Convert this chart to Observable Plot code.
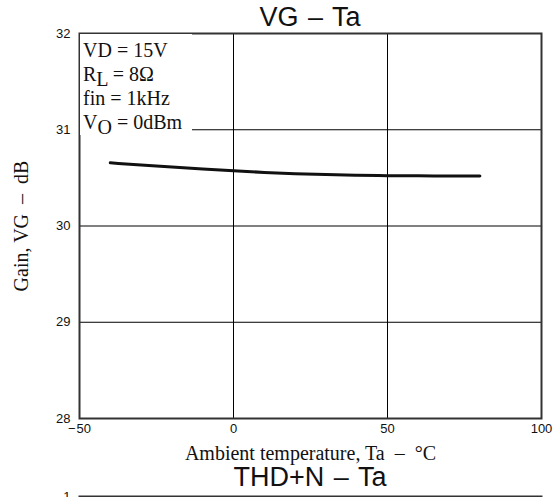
<!DOCTYPE html>
<html><head><meta charset="utf-8">
<script src="https://cdn.jsdelivr.net/npm/d3@7"></script>
<script src="https://cdn.jsdelivr.net/npm/@observablehq/plot@0.6"></script>
<style>
html,body{margin:0;padding:0;background:#fff;overflow:hidden;}
#wrap{position:relative;width:555px;}
.title{font-family:"Liberation Sans",Arial,sans-serif;font-size:27px;color:#111;text-align:center;box-sizing:border-box;width:541px;padding-left:79px;white-space:pre;line-height:30px;word-spacing:2px;}
#t1{height:26px;line-height:34px;}
#t2{height:30px;}
#note{position:absolute;left:80px;top:34px;width:112px;height:101px;box-sizing:border-box;padding:4px 0 0 3px;background:#fff;font-family:"Liberation Serif","Times New Roman",serif;font-size:20px;line-height:24px;color:#111;white-space:pre;}
#note .sub{position:relative;top:5px;}
svg{display:block;overflow:visible;}
</style></head><body>
<div id="wrap">
  <div class="title" id="t1"></div>
  <div id="c1"></div>
  <div class="title" id="t2"></div>
  <div id="c2"></div>
  <div id="note"></div>
</div>
<script>
// ---- data ----
const title1 = "VG – Ta";
const title2 = "THD+N – Ta";
const temps = [-40, -30, -20, -10, 0, 10, 20, 30, 40, 50, 60, 70, 80];
const gain  = [30.656, 30.635, 30.613, 30.592, 30.573, 30.557, 30.544, 30.534, 30.527, 30.523, 30.521, 30.520, 30.519];
const xTicks = [-50, 0, 50, 100];
const yTicks = [28, 29, 30, 31, 32];
const thdTicks = [1];
const xLabel = "Ambient temperature, Ta  –  °C";
const yLabel = "Gain, VG  –  dB";
const noteLines = [["VD = 15V", ""], ["R", "L", " = 8Ω"], ["fin = 1kHz", ""], ["V", "O", " = 0dBm"]];

// ---- titles & note ----
document.getElementById("t1").textContent = title1;
document.getElementById("t2").textContent = title2;
const note = document.getElementById("note");
noteLines.forEach(parts => {
  const div = document.createElement("div");
  if (parts.length === 3) {
    div.append(parts[0]);
    const s = document.createElement("span"); s.className = "sub"; s.textContent = parts[1];
    div.append(s); div.append(parts[2]);
  } else div.textContent = parts[0];
  note.appendChild(div);
});

const data = temps.map((t, i) => ({t, g: gain[i]}));
const fmt = d => d < 0 ? "\u2212\u200a" + Math.abs(d) : String(d);
const serif = "Liberation Serif, Times New Roman, serif";
const sans = "Liberation Sans, Arial, sans-serif";

const chart = Plot.plot({
  width: 555, height: 436,
  marginTop: 7, marginBottom: 44, marginLeft: 79, marginRight: 14,
  style: {fontFamily: sans, fontSize: "13px", color: "#111", background: "#fff", overflow: "visible"},
  x: {domain: [-50, 100]},
  y: {domain: [28, 32]},
  marks: [
    Plot.gridX(xTicks.slice(1, -1), {stroke: "#000", strokeOpacity: 1, strokeWidth: 1}),
    Plot.gridY(yTicks.slice(1, -1), {stroke: "#000", strokeOpacity: 1, strokeWidth: 1}),
    Plot.frame({stroke: "#333", strokeWidth: 2}),
    Plot.line(data, {x: "t", y: "g", curve: "natural", stroke: "#111", strokeWidth: 3}),
    Plot.axisX(xTicks, {tickSize: 0, tickPadding: 5, tickFormat: fmt, label: null, fontSize: 13, fontFamily: sans}),
    Plot.axisY(yTicks, {tickSize: 0, tickPadding: 9, tickFormat: d => String(d), label: null, fontSize: 13, fontFamily: sans}),
    Plot.text([xLabel], {text: d => d, frameAnchor: "bottom", lineAnchor: "bottom", dy: 41, fontFamily: serif, fontSize: 20}),
    Plot.text([yLabel], {text: d => d, frameAnchor: "left", textAnchor: "middle", rotate: -90, lineAnchor: "bottom", dx: -52, fontFamily: serif, fontSize: 20})
  ]
});
document.getElementById("c1").appendChild(chart);

const chart2 = Plot.plot({
  width: 555, height: 60,
  marginTop: 4, marginBottom: 10, marginLeft: 79, marginRight: 14,
  style: {fontFamily: sans, fontSize: "13px", color: "#111", background: "#fff", overflow: "visible"},
  x: {domain: [-50, 100], axis: null},
  y: {domain: [0, 1]},
  marks: [
    Plot.frame({stroke: "#333", strokeWidth: 2}),
    Plot.axisY(thdTicks, {tickSize: 0, tickPadding: 9, tickFormat: d => String(d), label: null, fontSize: 13, fontFamily: sans})
  ]
});
document.getElementById("c2").appendChild(chart2);
</script>
</body></html>
